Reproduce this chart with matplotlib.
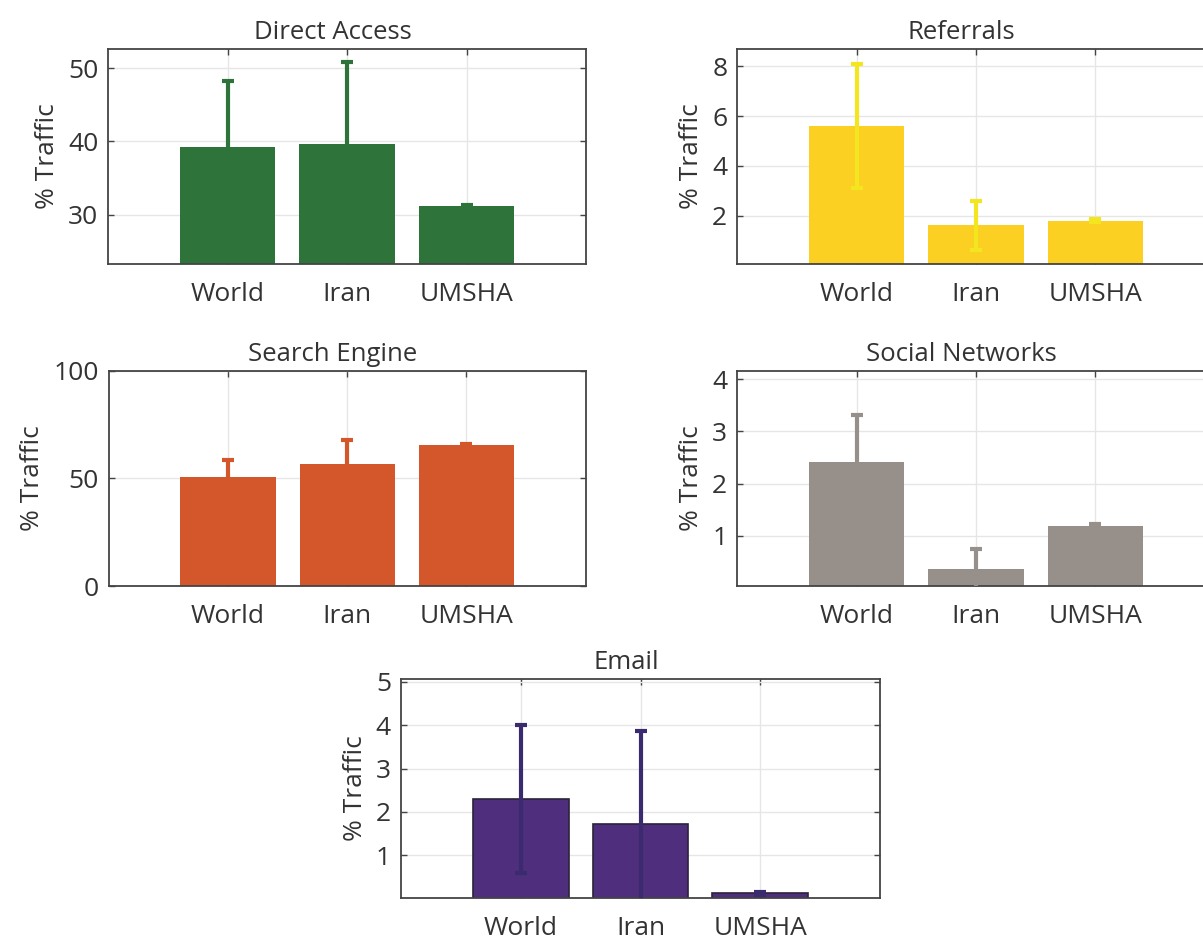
import matplotlib
matplotlib.use('Agg')
import matplotlib.pyplot as plt

plt.rcParams['font.family'] = ['Open Sans', 'DejaVu Sans']

# data
categories = ['World', 'Iran', 'UMSHA']

direct_mean = [39.3, 39.7, 31.2]
direct_err = [9.0, 11.1, 0.2]

referral_mean = [5.6, 1.6, 1.8]
referral_err = [2.5, 1.0, 0.05]

search_mean = [50.5, 56.5, 65.7]
search_err = [8.2, 11.1, 0.4]

social_mean = [2.41, 0.36, 1.19]
social_err = [0.91, 0.39, 0.03]

email_mean = [2.3, 1.73, 0.13]
email_err = [1.7, 2.13, 0.03]

W, H = 1203, 942
txt = '#333333'


def px_axes(fig, left, top, width, height):
    # pixel box (from top-left) -> figure coords
    return fig.add_axes([left / W, 1 - (top + height) / H, width / W, height / H])


def panel(ax, title, mean, err, color, ecolor, ylim, yticks, edge=None):
    x = [1, 2, 3]
    ax.bar(x, mean, width=0.8, color=color, edgecolor=edge if edge else color,
           linewidth=1.2 if edge else 0, zorder=2)
    ax.errorbar(x, mean, yerr=err, fmt='none', ecolor=ecolor, elinewidth=3,
                capsize=4.5, capthick=3, zorder=3)
    ax.set_xlim(0, 4)
    ax.set_ylim(*ylim)
    ax.set_xticks(x)
    ax.set_xticklabels(categories)
    ax.set_yticks(yticks)
    ax.grid(True, color='#e6e6e6', linewidth=1, zorder=0)
    ax.set_axisbelow(True)
    ax.tick_params(direction='in', length=4, width=1, colors='#444444',
                   labelcolor=txt, labelsize=19, top=True, right=True)
    ax.tick_params(axis='x', pad=13)
    ax.tick_params(axis='y', pad=7)
    for s in ax.spines.values():
        s.set_color('#444444')
        s.set_linewidth(1.3)
    ax.set_ylabel('% Traffic', fontsize=19, color=txt, labelpad=6)
    ax.set_title(title, fontsize=18.5, color=txt, x=0.47, pad=7)


fig = plt.figure(figsize=(W / 100, H / 100), dpi=100)

ax1 = px_axes(fig, 108, 49, 478, 215)
panel(ax1, 'Direct Access', direct_mean, direct_err, '#2e733a', '#2e733a',
      (23.3, 52.6), [30, 40, 50])

ax2 = px_axes(fig, 737, 49, 478, 215)
panel(ax2, 'Referrals', referral_mean, referral_err, '#fbd022', '#f4e61e',
      (0.05, 8.7), [2, 4, 6, 8])

ax3 = px_axes(fig, 108.7, 370.7, 477, 215.3)
panel(ax3, 'Search Engine', search_mean, search_err, '#d4572c', '#d4572c',
      (0, 100), [0, 50, 100])

ax4 = px_axes(fig, 737, 370.7, 478, 215.3)
panel(ax4, 'Social Networks', social_mean, social_err, '#978f8a', '#978f8a',
      (0.04, 4.16), [1, 2, 3, 4])

ax5 = px_axes(fig, 400.7, 679, 479.6, 219)
panel(ax5, 'Email', email_mean, email_err, '#4f2e7e', '#3a2a6e',
      (0.02, 5.06), [1, 2, 3, 4, 5], edge='#2a2438')

fig.savefig('out.png', dpi=100)
